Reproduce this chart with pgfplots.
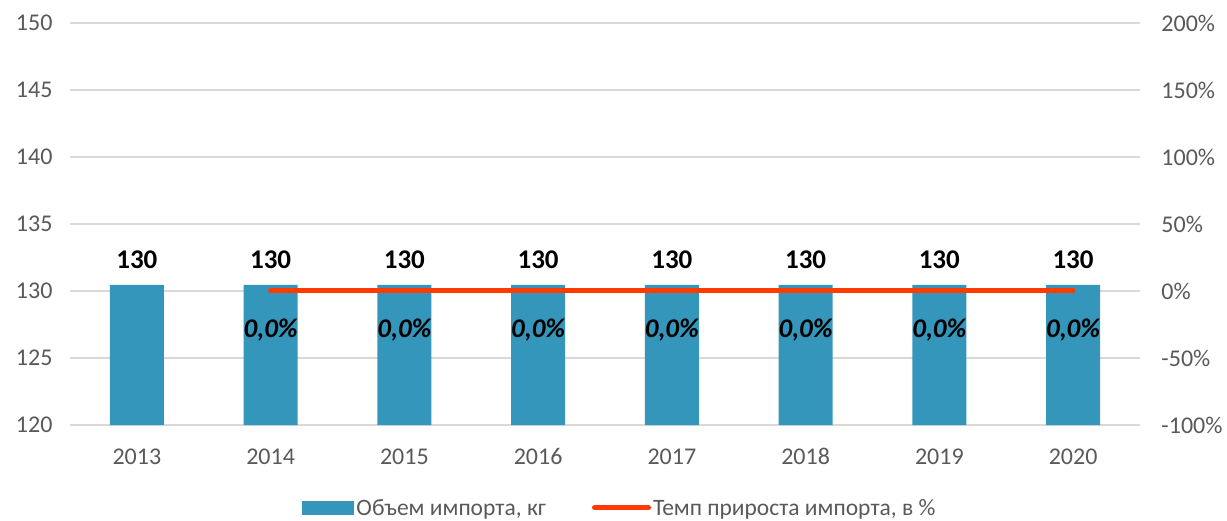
\documentclass[border=0pt]{standalone}
\usepackage{pgfplots}
\pgfplotsset{compat=1.18}
\usepackage{fontspec}
\setmainfont{Carlito}
\definecolor{barc}{HTML}{3596BC}
\definecolor{linec}{HTML}{FF3B00}
\definecolor{tickc}{HTML}{595959}
\definecolor{gridc}{HTML}{D9D9D9}
\begin{document}
\begin{tikzpicture}
\pgfplotsset{
  every axis/.append style={
    width=1070pt, height=402pt, scale only axis,
    at={(0pt,0pt)}, anchor=south west,
    xmin=-0.5, xmax=7.5,
    axis line style={draw=none},
    major tick length=0pt,
    tick style={draw=none},
    tick label style={font=\fontsize{24}{24}\selectfont, text=tickc},
    /pgf/number format/assume math mode=true,
    clip=false,
  }
}
\begin{axis}[
  ymin=120, ymax=150, ytick={120,125,...,150},
  xtick={0,...,7},
  xticklabels={2013,2014,2015,2016,2017,2018,2019,2020},
  xticklabel style={anchor=north, text height=16pt, text depth=0pt, yshift=-20pt},
  yticklabel style={xshift=-14pt},
  ymajorgrids, grid style={gridc, line width=1.5pt},
  ybar, bar width=54pt,
  legend columns=2,
  legend style={at={(0.514,-0.206)}, anchor=center, draw=none, fill=none,
    font=\fontsize{23.5}{23.5}\selectfont, text=tickc,
    nodes={inner xsep=2pt},
    /tikz/every even column/.append style={column sep=44pt}},
  legend cell align=left,
]
\addplot[fill=barc, draw=none,
  legend image code/.code={\fill[barc] (0pt,-7pt) rectangle (52pt,7pt);},
  nodes near coords={\pgfmathprintnumber[fixed,precision=0]{\pgfplotspointmeta}},
  every node near coord/.append style={font=\fontsize{27}{27}\selectfont\bfseries, text=black, yshift=13pt}]
  coordinates {(0,130.45) (1,130.45) (2,130.45) (3,130.45) (4,130.45) (5,130.45) (6,130.45) (7,130.45)};
\addlegendentry{Объем импорта, кг}
\addlegendimage{legend image code/.code={\draw[linec, line width=5pt, line cap=round] (2pt,0pt) -- (56pt,0pt);}}
\addlegendentry{Темп прироста импорта, в \%}
\end{axis}
\begin{axis}[
  ymin=-100, ymax=200, ytick={-100,-50,...,200},
  axis y line*=right,
  hide x axis,
  yticklabel={\pgfmathprintnumber{\tick}\%},
  yticklabel style={xshift=18pt},
]
\addplot[linec, line width=5pt, line cap=round,
  nodes near coords={\pgfmathprintnumber[fixed,fixed zerofill,precision=1,use comma]{\pgfplotspointmeta}\%},
  every node near coord/.append style={font=\fontsize{27}{27}\selectfont\bfseries\itshape, text=black, anchor=north, yshift=-22pt}]
  coordinates {(1,0) (2,0) (3,0) (4,0) (5,0) (6,0) (7,0)};
\end{axis}
\path (-70pt,-95pt) rectangle (1157pt,425pt);
\end{tikzpicture}
\end{document}
